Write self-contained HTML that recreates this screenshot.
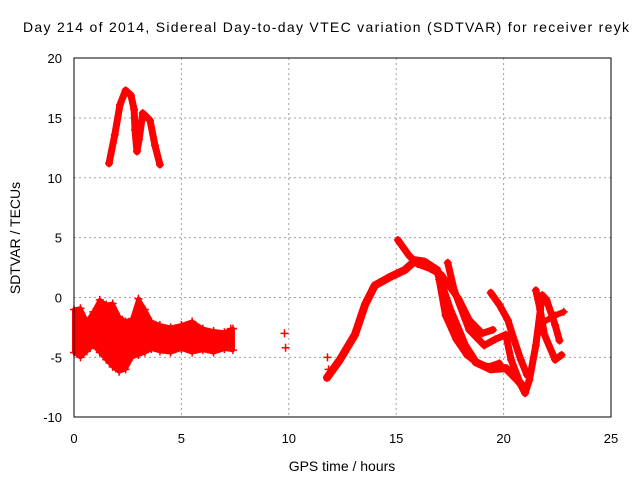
<!DOCTYPE html>
<html><head><meta charset="utf-8"><style>body{margin:0;background:#fff}svg{display:block}text{font-family:"Liberation Sans",sans-serif;fill:#000}</style></head>
<body>
<svg id="c" width="640" height="480" viewBox="0 0 640 480">
<text x="326" y="32" font-size="14" text-anchor="middle" textLength="606">Day 214 of 2014, Sidereal Day-to-day VTEC variation (SDTVAR) for receiver reyk</text>
<text x="342" y="471" font-size="14" text-anchor="middle">GPS time / hours</text>
<text transform="translate(20,238) rotate(-90)" font-size="14" text-anchor="middle">SDTVAR / TECUs</text>
<g id="grid"></g><g id="marks"></g>
<rect x="74" y="58" width="537" height="359" fill="none" stroke="#000"/>
</svg>
<script>
const xTicks=[0,5,10,15,20,25];
const yTicks=[-10,-5,0,5,10,15,20];
const arcX=[1.63,1.9,2.14,2.4,2.65,2.8,2.84,2.93,3.03,3.2,3.54,3.77,4.0];
const arcY=[11.2,13.6,16.1,17.3,16.9,15.7,14.0,12.2,13.2,15.4,14.8,12.7,11.1];
const bandX=[0,0.3,0.6,0.9,1.2,1.5,1.8,2.1,2.4,2.7,3.0,3.3,3.6,4.0,4.5,5.0,5.5,6.0,6.5,7.0,7.4];
const bandHi=[-1.0,-0.9,-2.0,-1.2,-0.2,-0.6,-0.5,-1.6,-2.0,-1.8,-0.1,-1.0,-2.0,-2.3,-2.5,-2.3,-2.0,-2.6,-2.8,-2.9,-2.6];
const bandLo=[-4.6,-5.0,-4.5,-4.0,-4.6,-5.2,-5.8,-6.2,-6.0,-5.0,-4.8,-4.6,-4.3,-4.5,-4.6,-4.3,-4.6,-4.4,-4.6,-4.3,-4.4];
const riseX=[11.78,12.38,13.08,13.55,14.0,14.7,15.4,15.9,16.3,16.9,17.2,17.5,17.9,18.2,18.7,19.4,20.1,20.6,21.0];
const riseY=[-6.7,-5.2,-3.1,-0.6,1.0,1.7,2.3,3.1,3.0,2.3,0.6,-1.0,-2.7,-4.0,-5.4,-6.0,-5.9,-6.8,-7.6];
const peakX=[15.08,15.6,16.0,16.6,17.1,17.9,18.4,19.0,19.5];
const peakY=[4.8,3.5,2.8,2.4,1.9,-0.1,-1.9,-3.0,-2.7];
const loopX=[17.0,17.3,17.8,18.3,18.8,19.3,19.8];
const loopY=[1.5,-1.5,-3.5,-4.8,-5.5,-5.8,-5.5];
const s2X=[17.4,17.7,18.4,19.1,19.6,20.1,20.35,20.8,21.0,21.2,21.5,21.8,22.0,22.4,22.6];
const s2Y=[2.9,0.6,-2.7,-4.0,-3.5,-3.1,-5.2,-7.3,-8.0,-6.9,-4.0,0.2,-0.2,-2.3,-3.6];
const s3X=[19.4,19.8,20.2,20.5,20.8,21.1];
const s3Y=[0.4,-0.6,-1.9,-3.6,-5.2,-6.5];
const s4X=[21.5,21.7,21.9,22.4,22.7];
const s4Y=[0.6,-1.0,-3.1,-5.2,-4.8];
const s5X=[21.9,22.4,22.8];
const s5Y=[-2.0,-1.5,-1.2];
const isoX=[7.3,9.8,9.85,11.8,11.85];
const isoY=[-2.6,-3.0,-4.2,-5.0,-6.0];
const sx=v=>74+v*21.48, sy=v=>297.5-v*11.97;
const NS="http://www.w3.org/2000/svg";
const grid=document.getElementById('grid'), marks=document.getElementById('marks'), svg=document.getElementById('c');
xTicks.forEach(t=>{
 if(t>0&&t<25){const l=document.createElementNS(NS,'line');l.setAttribute('x1',sx(t));l.setAttribute('x2',sx(t));l.setAttribute('y1',58);l.setAttribute('y2',417);l.setAttribute('stroke','#a0a0a0');l.setAttribute('stroke-dasharray','2,3');
 
 grid.appendChild(l);}
 const tx=document.createElementNS(NS,'text');tx.setAttribute('x',sx(t));tx.setAttribute('y',443);tx.setAttribute('font-size','13');tx.setAttribute('text-anchor','middle');tx.textContent=t;
 
 svg.appendChild(tx);
});
yTicks.forEach(t=>{
 if(t>-10&&t<20){const l=document.createElementNS(NS,'line');l.setAttribute('x1',74);l.setAttribute('x2',611);l.setAttribute('y1',sy(t));l.setAttribute('y2',sy(t));l.setAttribute('stroke','#a0a0a0');l.setAttribute('stroke-dasharray','2,3');
 
 grid.appendChild(l);}
 const tx=document.createElementNS(NS,'text');tx.setAttribute('x',62);tx.setAttribute('y',sy(t)+5);tx.setAttribute('font-size','13');tx.setAttribute('text-anchor','end');tx.textContent=t;
 
 svg.appendChild(tx);
});
function plus(X,Y){const m=document.createElementNS(NS,'path');m.setAttribute('d',`M${X-4},${Y}H${X+4}M${X},${Y-4}V${Y+4}`);m.setAttribute('stroke','#f00');m.setAttribute('stroke-width','1.5');
 
 marks.appendChild(m);}
function track(xs,ys,w,name){
 if(w>0){const p=document.createElementNS(NS,'polyline');p.setAttribute('points',xs.map((x,i)=>sx(x)+','+sy(ys[i])).join(' '));p.setAttribute('fill','none');p.setAttribute('stroke','#f00');p.setAttribute('stroke-width',w);p.setAttribute('stroke-linejoin','round');p.setAttribute('stroke-linecap','round');
 
 marks.appendChild(p);}
 xs.forEach((x,i)=>plus(sx(x),sy(ys[i])));
}
const bp=document.createElementNS(NS,'polygon');
bp.setAttribute('points',bandX.map((x,i)=>sx(x)+','+sy(bandHi[i])).concat(bandX.map((x,i)=>sx(x)+','+sy(bandLo[i])).reverse()).join(' '));
bp.setAttribute('fill','#f00');bp.setAttribute('stroke','#f00');bp.setAttribute('stroke-width','4');bp.setAttribute('stroke-linejoin','round');


marks.appendChild(bp);
bandX.forEach((x,i)=>{plus(sx(x),sy(bandHi[i]));plus(sx(x),sy(bandLo[i]));});
track(arcX,arcY,7,'morning-arc');
track(riseX,riseY,8,'afternoon-rise');
track(peakX,peakY,7,'peak-strand');
track(loopX,loopY,7,'loop-strand');
track(s2X,s2Y,7,'strand-2');
track(s3X,s3Y,7,'strand-3');
track(s4X,s4Y,7,'strand-4');
track(s5X,s5Y,6,'strand-5');
track(isoX,isoY,0,'isolated-points');
</script>
</body></html>
